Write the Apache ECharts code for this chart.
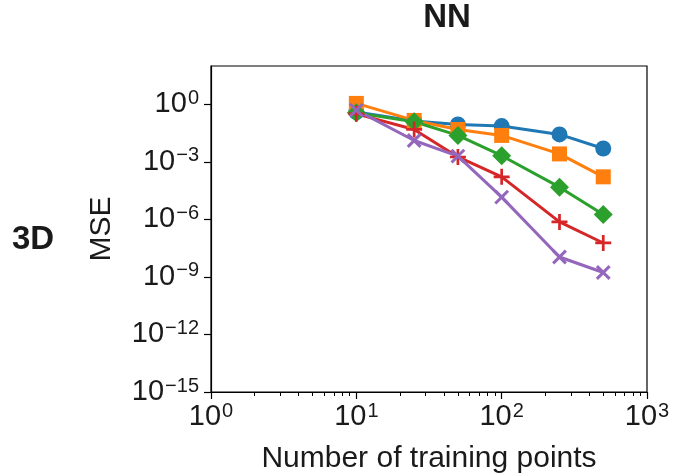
<!DOCTYPE html>
<html>
<head>
<meta charset="utf-8">
<script src="https://cdn.jsdelivr.net/npm/echarts@6/dist/echarts.min.js"></script>
<style>
  html, body { margin: 0; padding: 0; background: #fff; }
  #chart { width: 679px; height: 476px; }
</style>
</head>
<body>
<div id="chart"></div>
<script>
// training set sizes
var trainPoints = [10, 25, 50, 100, 250, 500];

// MSE per curve
var mseBlue   = [0.40, 0.135, 0.089, 0.074, 0.027, 0.0050];
var mseOrange = [1.12, 0.145, 0.049, 0.024, 0.0026, 0.000166];
var mseGreen  = [0.36, 0.123, 0.024, 0.0021, 4.8e-5, 1.8e-6];
var mseRed    = [0.32, 0.049, 0.0018, 1.66e-4, 7.4e-7, 5.9e-8];
var msePurple = [0.50, 0.013, 0.0020, 1.45e-5, 1.1e-8, 1.7e-9];

// ticks
var xMajorTicks = [1, 10, 100, 1000];
var xMinorTicks = [2, 3, 4, 5, 6, 7, 8, 9, 20, 30, 40, 50, 60, 70, 80, 90, 200, 300, 400, 500, 600, 700, 800, 900];
var yTicks = [1e-15, 1e-12, 1e-9, 1e-6, 1e-3, 1];

var FONT = '"Liberation Sans", Arial, Helvetica, sans-serif';
var INK = '#1a1a1a';

var plusPath = 'path://M-1.7,-10L1.7,-10L1.7,-1.7L10,-1.7L10,1.7L1.7,1.7L1.7,10L-1.7,10L-1.7,1.7L-10,1.7L-10,-1.7L-1.7,-1.7Z';

// 10^n label as rich text
function powLabel(v) {
	var e = Math.round(Math.log10(v));
	var s = e < 0 ? '\u2212' + (-e) : '' + e;
	return '{b|10}{s|' + s + '}';
}
var powRich = {
	b: { fontSize: 29, fontFamily: FONT, color: INK, lineHeight: 32 },
	s: { fontSize: 20, fontFamily: FONT, color: INK, verticalAlign: 'top', lineHeight: 20, padding: [0, 0, 0, 1] }
};

function pairs(ys) {
	return trainPoints.map(function(x, i) { return [x, ys[i]]; });
}

function makeSeries(name, color, ys, symbol, size, rotate) {
	return {
		name: name,
		type: 'line',
		data: pairs(ys),
		symbol: symbol,
		symbolSize: size,
		symbolRotate: rotate || 0,
		showAllSymbol: true,
		lineStyle: { color: color, width: 3 },
		itemStyle: { color: color, borderWidth: 0 },
		emphasis: { disabled: true },
		animation: false
	};
}

var myChart = echarts.init(document.getElementById('chart'));
var option = {
	backgroundColor: '#fff',
	animation: false,
	grid: {
		left: 211, right: 32, top: 66, bottom: 84,
		outerBoundsMode: 'none',
		containLabel: false,
		show: true, borderColor: '#000', borderWidth: 1.2, backgroundColor: 'transparent'
	},
	graphic: [
		{ type: 'text', x: 447, y: 18, style: { text: 'NN', font: 'bold 33px ' + FONT, fill: INK, textAlign: 'center', textVerticalAlign: 'middle' } },
		{ type: 'text', x: 33, y: 240, style: { text: '3D', font: 'bold 33px ' + FONT, fill: INK, textAlign: 'center', textVerticalAlign: 'middle' } }
	],
	xAxis: [{
		type: 'log',
		min: 1, max: 1000,
		name: 'Number of training points',
		nameLocation: 'middle',
		nameGap: 52,
		nameTextStyle: { fontSize: 30, fontFamily: FONT, color: INK },
		axisLine: { lineStyle: { color: '#000', width: 1.2 } },
		axisTick: { inside: false, length: 7, customValues: xMajorTicks, lineStyle: { color: '#000', width: 1.2 } },
		axisLabel: { customValues: xMajorTicks, margin: 9, formatter: powLabel, rich: powRich },
		splitLine: { show: false }
	}, {
		type: 'log',
		min: 1, max: 1000,
		position: 'bottom',
		axisLine: { show: false },
		axisTick: { inside: false, length: 4, customValues: xMinorTicks, lineStyle: { color: '#000', width: 1 } },
		axisLabel: { show: false },
		splitLine: { show: false }
	}],
	yAxis: {
		type: 'log',
		min: 1e-15, max: 100,
		name: 'MSE',
		nameLocation: 'middle',
		nameRotate: 90,
		nameGap: 94,
		nameTextStyle: { fontSize: 30, fontFamily: FONT, color: INK },
		axisLine: { lineStyle: { color: '#000', width: 1.2 } },
		axisTick: { inside: false, length: 7, customValues: yTicks, lineStyle: { color: '#000', width: 1.2 } },
		axisLabel: { customValues: yTicks, margin: 12, formatter: powLabel, rich: powRich },
		splitLine: { show: false }
	},
	series: [
		makeSeries('blue', '#1f77b4', mseBlue, 'circle', 16),
		makeSeries('orange', '#ff7f0e', mseOrange, 'rect', 15),
		makeSeries('green', '#2ca02c', mseGreen, 'diamond', 19),
		makeSeries('red', '#d62728', mseRed, plusPath, 16),
		makeSeries('purple', '#9467bd', msePurple, plusPath, 18, 45)
	]
};
myChart.setOption(option);
</script>
</body>
</html>
